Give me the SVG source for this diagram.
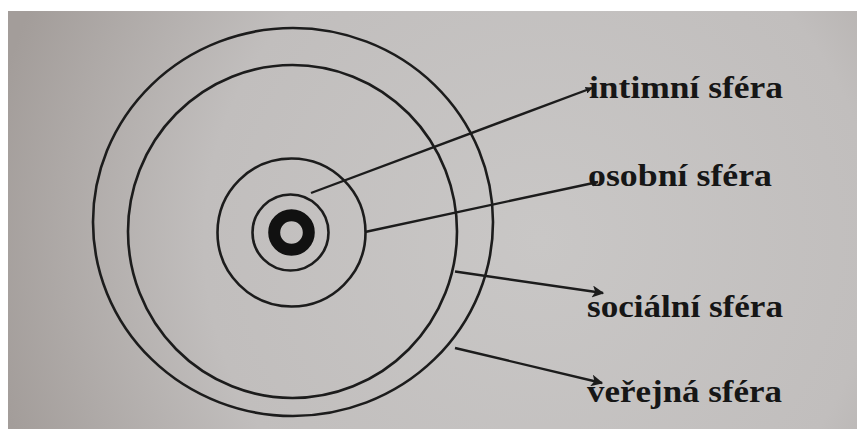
<svg xmlns="http://www.w3.org/2000/svg" width="857" height="429" viewBox="0 0 857 429">
  <defs>
    <radialGradient id="paper" cx="540" cy="240" r="560" gradientUnits="userSpaceOnUse">
      <stop offset="0" stop-color="#c9c7c6"/>
      <stop offset="0.6" stop-color="#c1bebd"/>
      <stop offset="1" stop-color="#a39d9a"/>
    </radialGradient>
    <marker id="arr" viewBox="0 0 10 10" refX="9" refY="5" markerWidth="7" markerHeight="7" markerUnits="userSpaceOnUse" orient="auto">
      <path d="M0,0 L10,5 L0,10 Z" fill="#1c1c1c"/>
    </marker>
    <marker id="arrBig" viewBox="0 0 10 10" refX="9" refY="5" markerWidth="14" markerHeight="12" markerUnits="userSpaceOnUse" orient="auto">
      <path d="M0,0 L10,5 L0,10 L2.5,5 Z" fill="#1c1c1c"/>
    </marker>
  </defs>
  <style>
    .ring { fill: none; stroke: #1c1c1c; stroke-width: 2.6; }
    .lbl { font-family: "Liberation Serif", "Times New Roman", serif; font-weight: bold; font-size: 32px; fill: #161616; }
    .conn { stroke: #1c1c1c; stroke-width: 2.4; fill: none; }
  </style>
  <rect x="0" y="0" width="857" height="429" fill="#ffffff"/>
  <rect x="8" y="11" width="849" height="418" fill="url(#paper)"/>

  <g id="circles">
    <ellipse id="verejna-ring" class="ring" cx="293" cy="222" rx="200" ry="194"/>
    <ellipse id="socialni-ring" class="ring" cx="292.5" cy="231.5" rx="164.5" ry="166.5"/>
    <circle id="osobni-ring" class="ring" cx="291.5" cy="232.5" r="74"/>
    <circle id="intimni-ring" class="ring" cx="290.5" cy="232.5" r="38"/>
    <circle id="core" cx="291.5" cy="232.5" r="17.3" fill="none" stroke="#111111" stroke-width="12"/>
  </g>

  <g id="connectors">
    <line class="conn" x1="311" y1="193" x2="592" y2="88" marker-end="url(#arr)"/>
    <line class="conn" x1="365" y1="232" x2="598" y2="182" marker-end="url(#arr)"/>
    <line class="conn" x1="455" y1="271.5" x2="603" y2="293" marker-end="url(#arrBig)"/>
    <line class="conn" x1="455" y1="348" x2="602" y2="383" marker-end="url(#arrBig)"/>
  </g>

  <g id="intimni">
    <text class="lbl" x="589" y="98" textLength="194" lengthAdjust="spacingAndGlyphs">intimní sféra</text>
  </g>
  <g id="osobni">
    <text class="lbl" x="588" y="186" textLength="184" lengthAdjust="spacingAndGlyphs">osobní sféra</text>
  </g>
  <g id="socialni">
    <text class="lbl" x="587" y="317" textLength="196" lengthAdjust="spacingAndGlyphs">sociální sféra</text>
  </g>
  <g id="verejna">
    <text class="lbl" x="587" y="402" textLength="195" lengthAdjust="spacingAndGlyphs">veřejná sféra</text>
  </g>
</svg>
